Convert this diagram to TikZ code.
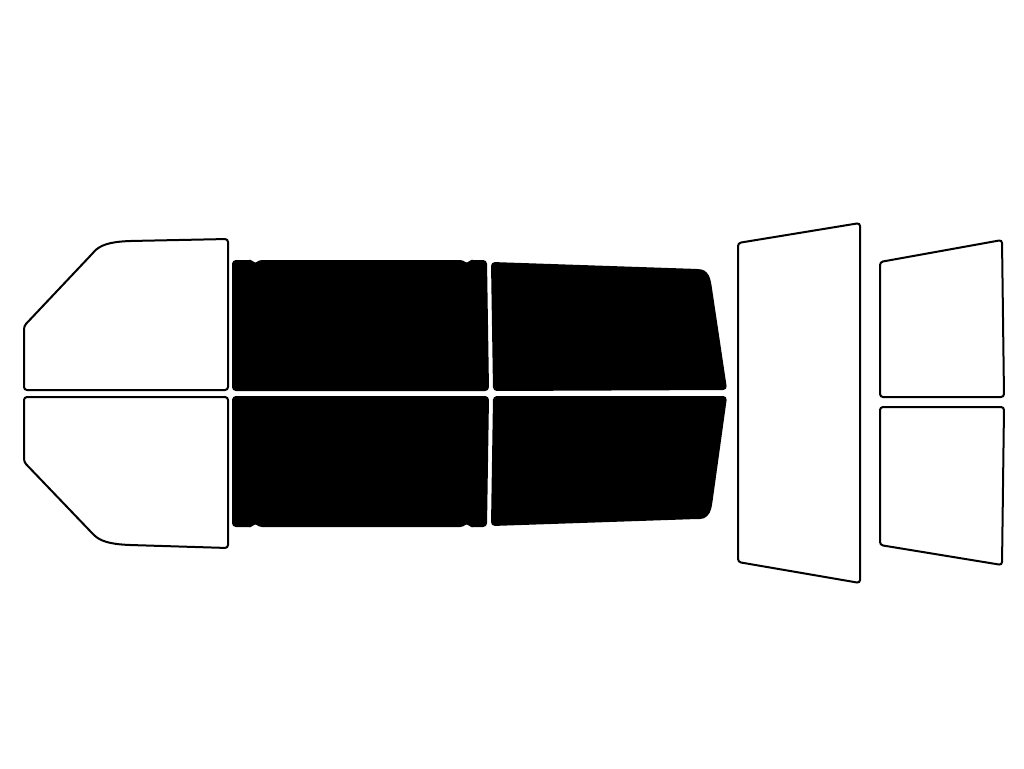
\documentclass[tikz,border=0pt]{standalone}
\begin{document}
\begin{tikzpicture}[x=1pt,y=-1pt,
  glass/.style={draw=black,line width=2pt,fill=white,rounded corners=3pt},
  tint/.style={draw=black,line width=2pt,fill=black,rounded corners=3pt}]
\useasboundingbox (0,0) rectangle (1024,768);
% front doors
\draw[glass] (228,239) -- (228,390) -- (24,390) -- (24,326) -- (92,254)
  .. controls (100,245) and (110,242) .. (130,241) -- cycle;
\draw[glass] (228,397) -- (228,548) -- (130,545)
  .. controls (110,544) and (100,541) .. (92,533) -- (24,462) -- (24,397) -- cycle;
% tinted rear
\draw[tint] (233,261) -- (252,261) -- (255,265) -- (259,261) -- (463,261) -- (467,265) -- (470,261)
  -- (486,261) -- (488,390) -- (233,390) -- cycle;
\draw[tint] (233,397) -- (488,397) -- (486,526) -- (470,526) -- (467,522) -- (463,526)
  -- (259,526) -- (255,522) -- (252,526) -- (233,526) -- cycle;
\draw[tint] (492,263) -- (698,270) .. controls (705,271) and (708,275) .. (710,282)
  -- (726,389) -- (494,390) -- cycle;
\draw[tint] (494,397) -- (726,397) -- (711,505) .. controls (709,514) and (705,518) .. (697,518)
  -- (492,525) -- cycle;
% back windows
\draw[glass] (738,243) -- (860,223) -- (860,583) -- (738,562) -- cycle;
\draw[glass] (880,262) -- (1002,240) -- (1004,397) -- (880,397) -- cycle;
\draw[glass] (880,407) -- (1004,407) -- (1002,565) -- (880,545) -- cycle;
\end{tikzpicture}
\end{document}
